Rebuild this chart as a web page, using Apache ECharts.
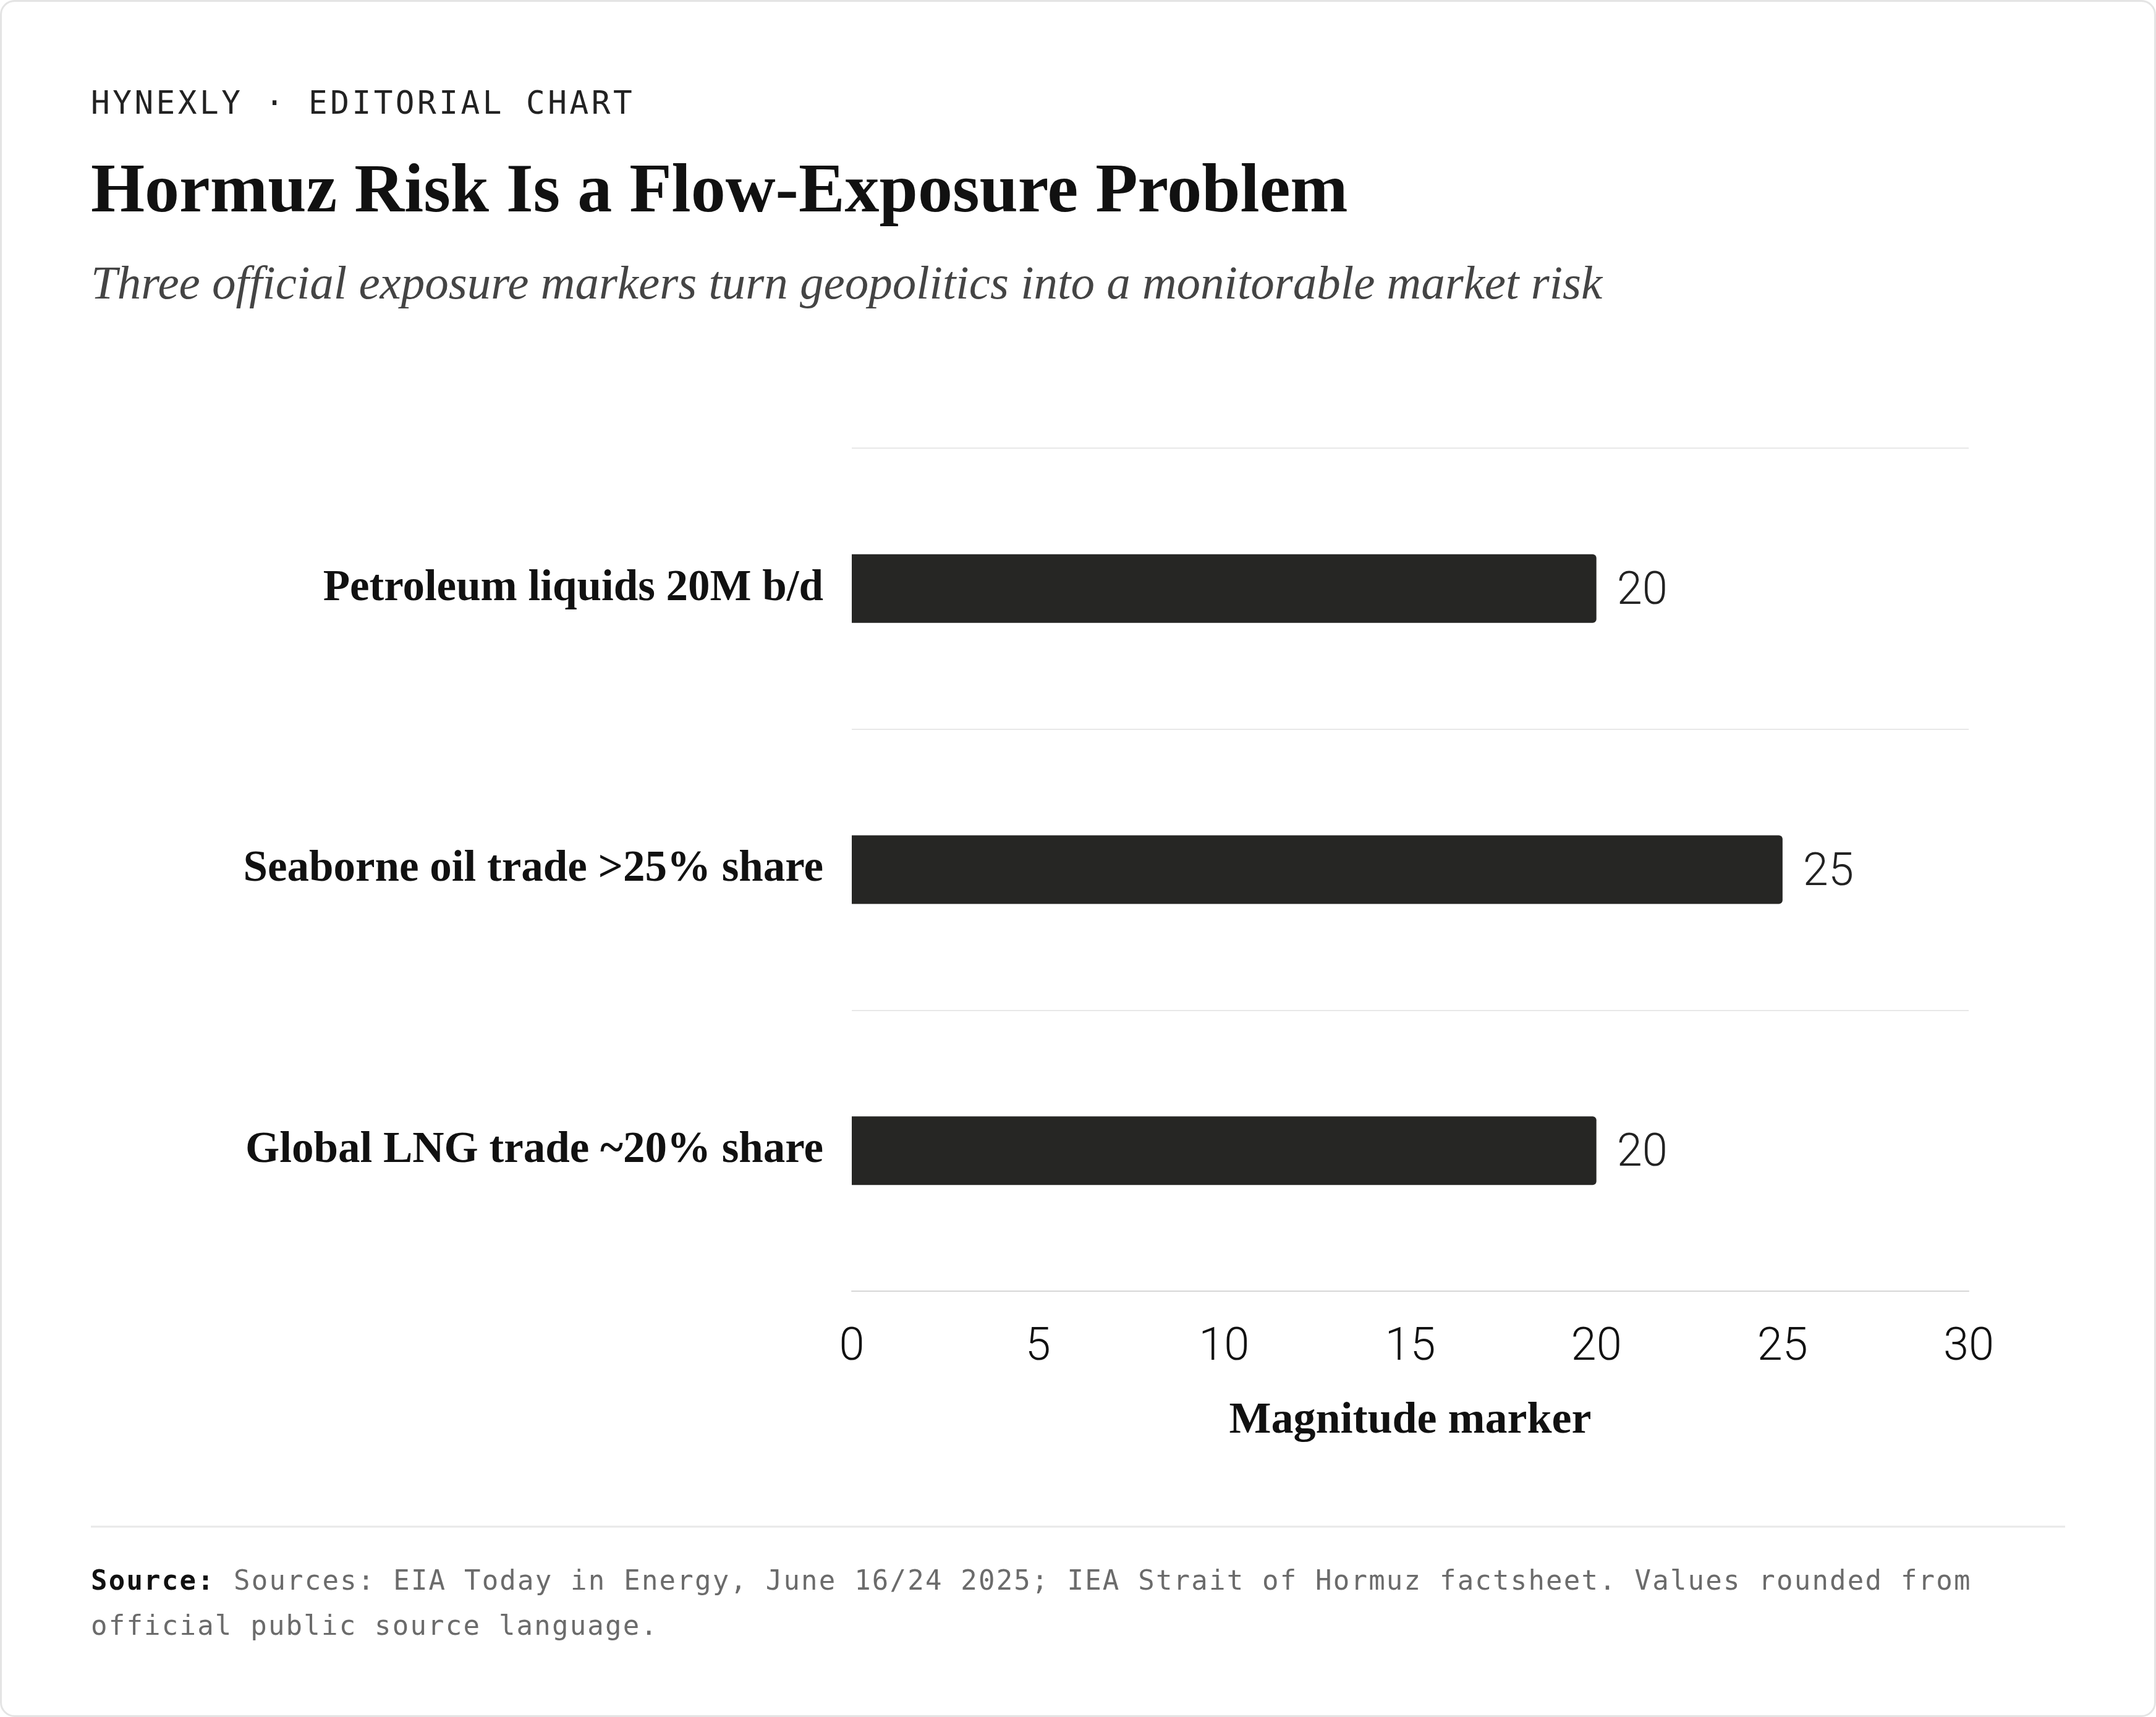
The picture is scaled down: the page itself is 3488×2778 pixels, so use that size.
<!DOCTYPE html>
<html>
<head>
<meta charset="utf-8">
<script src="https://cdn.jsdelivr.net/npm/echarts@6/dist/echarts.min.js"></script>
<style>
  html, body { margin: 0; background: #fff; }
  #chart { width: 3488px; height: 2778px; }
</style>
</head>
<body>
<div id="chart"></div>
<script>
// data
const categories = ['Petroleum liquids 20M b/d', 'Seaborne oil trade >25% share', 'Global LNG trade ~20% share'];
const values = [20, 25, 20];
const xMin = 0, xMax = 30, xStep = 5;

const kicker = 'HYNEXLY · EDITORIAL CHART';
const title = 'Hormuz Risk Is a Flow-Exposure Problem';
const subtitle = 'Three official exposure markers turn geopolitics into a monitorable market risk';
const axisName = 'Magnitude marker';
const sourceLead = 'Source:';
const sourceLine1 = 'Sources: EIA Today in Energy, June 16/24 2025; IEA Strait of Hormuz factsheet. Values rounded from';
const sourceLine2 = 'official public source language.';

const SERIF = "'Liberation Serif', serif";
const SANS = "Roboto, sans-serif";
const MONO = "'DejaVu Sans Mono', monospace";

// the mono lines are tracked out in the reference; zrender has no letterSpacing so set it on the ctx
const fillText = CanvasRenderingContext2D.prototype.fillText;
CanvasRenderingContext2D.prototype.fillText = function (t, x, y, w) {
  const m = /(\d+)px.*Mono/.exec(this.font);
  this.letterSpacing = m ? (+m[1] >= 48 ? '4.5px' : '2.2px') : '0px';
  return w === undefined ? fillText.call(this, t, x, y) : fillText.call(this, t, x, y, w);
};

const chart = echarts.init(document.getElementById('chart'));

function txt(x, y, text, font, fill) {
  return { type: 'text', x: x, y: y, silent: true,
    style: { text: text, font: font, fill: fill, textAlign: 'left', textVerticalAlign: 'middle' } };
}

chart.setOption({
  backgroundColor: '#ffffff',
  animation: false,
  graphic: [
    { type: 'rect', silent: true, shape: { x: 1.5, y: 1.5, width: 3485, height: 2775, r: 22 },
      style: { fill: 'none', stroke: '#e4e4e4', lineWidth: 3 } },
    txt(147, 171, kicker, '51px ' + MONO, '#222222'),
    txt(147, 313, title, 'bold 112px ' + SERIF, '#111111'),
    txt(147, 463, subtitle, 'italic 77px ' + SERIF, '#444444'),
    { type: 'line', silent: true, shape: { x1: 147, y1: 2470, x2: 3341, y2: 2470 },
      style: { stroke: '#e8e8e8', lineWidth: 3 } },
    txt(147, 2561, sourceLead, 'bold 44px ' + MONO, '#111111'),
    txt(378, 2561, sourceLine1, '44px ' + MONO, '#6b6b6b'),
    txt(147, 2634, sourceLine2, '44px ' + MONO, '#6b6b6b')
  ],
  grid: { left: 1378, right: 303, top: 725, bottom: 689, containLabel: false },
  xAxis: {
    type: 'value', min: xMin, max: xMax, interval: xStep,
    name: axisName, nameLocation: 'middle', nameGap: 174,
    nameTextStyle: { fontFamily: SERIF, fontWeight: 'bold', fontSize: 72, color: '#111111' },
    axisLine: { show: true, lineStyle: { color: '#d6d6d6', width: 2 } },
    axisTick: { show: false },
    splitLine: { show: false },
    axisLabel: { fontFamily: SANS, fontWeight: 300, fontSize: 74, color: '#111111', margin: 55 }
  },
  yAxis: {
    type: 'category', data: categories, inverse: true,
    axisLine: { show: false },
    axisTick: { show: false },
    splitLine: { show: true, lineStyle: { color: '#e8e8e8', width: 2 } },
    axisLabel: { fontFamily: SERIF, fontWeight: 'bold', fontSize: 71, color: '#111111', margin: 46 }
  },
  series: [{
    type: 'bar', data: values, barWidth: 111,
    itemStyle: { color: '#262624', borderRadius: [0, 6, 6, 0] },
    label: { show: true, position: 'right', distance: 33, offset: [0, 6],
      fontFamily: SANS, fontWeight: 300, fontSize: 74, color: '#222222' }
  }]
});
</script>
</body>
</html>
